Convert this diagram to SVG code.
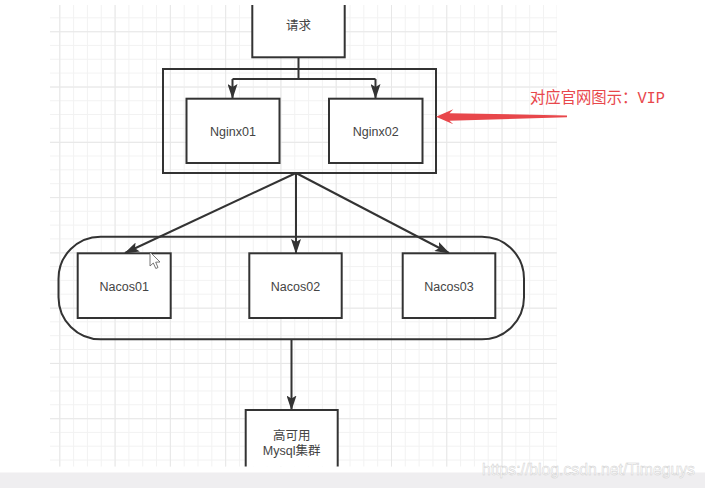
<svg xmlns="http://www.w3.org/2000/svg" width="705" height="488" viewBox="0 0 705 488">
<style>
.box{fill:#fff;stroke:#333;stroke-width:2}
.cont{fill:none;stroke:#333;stroke-width:2}
.lbl{font-family:"Liberation Sans","Noto Sans CJK SC",sans-serif;font-size:12.5px;fill:#444;text-anchor:middle;dominant-baseline:central}
.edge{fill:none;stroke:#333;stroke-width:2}
</style>
<defs>
<pattern id="gminor" patternUnits="userSpaceOnUse" x="59.3" y="3.48" width="13.82" height="13.82">
<path d="M0,0.5H13.82M0.5,0V13.82" stroke="#f2f2f2" stroke-width="1" fill="none"/>
</pattern>
<pattern id="gmajor" patternUnits="userSpaceOnUse" x="59.3" y="31.3" width="55.28" height="55.28">
<path d="M0,0.5H55.28M0.5,0V55.28" stroke="#e7e7e7" stroke-width="1" fill="none"/>
</pattern>
<clipPath id="canvas"><rect x="50" y="5" width="507" height="461.5"/></clipPath>
<marker id="ah" markerUnits="userSpaceOnUse" viewBox="0 0 15 10" markerWidth="15" markerHeight="10" refX="14" refY="5" orient="auto">
<path d="M0,0L15,5L0,10L3,5Z" fill="#333"/>
</marker>
</defs>
<rect x="0" y="0" width="705" height="488" fill="#fff"/>
<rect x="0" y="472.5" width="705" height="15.5" fill="#efeef0"/>
<g clip-path="url(#canvas)">
<rect x="50" y="5" width="507" height="462" fill="url(#gminor)"/>
<rect x="50" y="5" width="507" height="462" fill="url(#gmajor)"/>

<g id="connectors">
<path class="edge" d="M298.5,57.5V78.5"/>
<path class="edge" d="M232.5,79H375.5"/>
<path class="edge" d="M232.5,79V98" marker-end="url(#ah)"/>
<path class="edge" d="M375.5,79V98" marker-end="url(#ah)"/>
<path class="edge" d="M296,173L125,253" marker-end="url(#ah)"/>
<path class="edge" d="M296,173V253" marker-end="url(#ah)"/>
<path class="edge" d="M296,173L449,253" marker-end="url(#ah)"/>
<path class="edge" d="M291.5,339.5V409.5" marker-end="url(#ah)"/>
</g>

<g id="req">
<rect class="box" x="252.3" y="-20" width="92.4" height="77.3"/>
<text class="lbl" x="298.5" y="26">请求</text>
</g>
<g id="nginx-group">
<rect class="cont" x="163" y="69" width="273" height="104"/>
</g>
<g id="nginx01">
<rect class="box" x="186.5" y="98.7" width="93" height="64.3"/>
<text class="lbl" x="233" y="131.5">Nginx01</text>
</g>
<g id="nginx02">
<rect class="box" x="329" y="98.7" width="93.5" height="64.3"/>
<text class="lbl" x="375.7" y="131.5">Nginx02</text>
</g>
<g id="nacos-group">
<rect class="cont" x="58.5" y="236.7" width="465.5" height="102.6" rx="42" ry="42"/>
</g>
<g id="nacos01">
<rect class="box" x="77.7" y="253.3" width="93" height="64.7"/>
<text class="lbl" x="124.2" y="286.5">Nacos01</text>
</g>
<g id="nacos02">
<rect class="box" x="249.3" y="253.3" width="92.4" height="64.7"/>
<text class="lbl" x="295.5" y="286.5">Nacos02</text>
</g>
<g id="nacos03">
<rect class="box" x="402.7" y="253.3" width="92.6" height="64.7"/>
<text class="lbl" x="449" y="286.5">Nacos03</text>
</g>
<g id="mysql">
<rect class="box" x="245.7" y="410" width="92" height="80"/>
<text class="lbl" x="291.7" y="436">高可用</text>
<text class="lbl" x="291.7" y="450.5">Mysql集群</text>
</g>
<path d="M150,252L150,266L153.3,263L155.8,268.5L158,267.5L155.7,262.2L160,262Z" fill="#fff" stroke="#555" stroke-width="0.8"/>
</g>

<g id="vip-note">
<path d="M436,116.8L453.3,109.3L449.5,113.2L567,115.4L567,117.2L449.5,120.8L453.3,124.3Z" fill="#e8474b"/>
<text x="530" y="103" font-family="Liberation Mono,'Noto Sans CJK SC',monospace" font-size="16" fill="#e8474b" textLength="135" lengthAdjust="spacingAndGlyphs">对应官网图示：VIP</text>
</g>
<text x="482" y="475" font-family="Liberation Sans,sans-serif" font-size="16.5" fill="#ffffff" stroke="#cfcfcf" stroke-width="0.5" textLength="213" lengthAdjust="spacingAndGlyphs">https://blog.csdn.net/Timeguys</text>
</svg>
